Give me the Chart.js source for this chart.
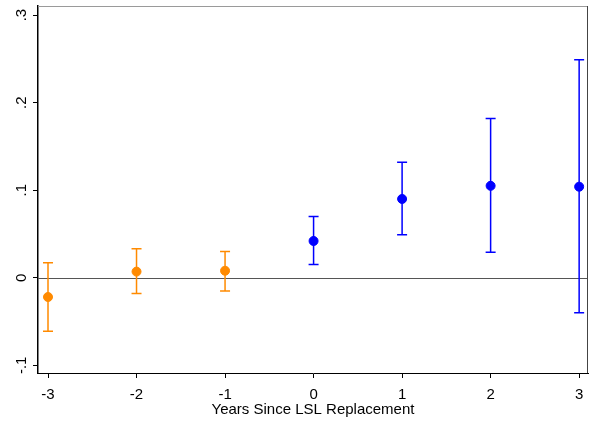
<!DOCTYPE html>
<html>
<head>
<meta charset="utf-8">
<script src="https://cdn.jsdelivr.net/npm/chart.js@4"></script>
<style>
  html, body { margin: 0; padding: 0; background: #fff; }
  #c { display: block; }
</style>
</head>
<body>
<canvas id="c" width="590" height="421"></canvas>
<script>
// ---- data ----
const years = [-3, -2, -1, 0, 1, 2, 3];
const estimates = [-0.022, 0.007, 0.008, 0.042, 0.090, 0.105, 0.104];
const lowerCI  = [-0.061, -0.018, -0.015, 0.015, 0.049, 0.029, -0.040];
const upperCI  = [0.017, 0.033, 0.030, 0.070, 0.132, 0.182, 0.249];
const yTickValues = [-0.1, 0, 0.1, 0.2, 0.3];
const yTickLabels = ['-.1', '0', '.1', '.2', '.3'];
const xTickValues = [-3, -2, -1, 0, 1, 2, 3];
const xTitle = 'Years Since LSL Replacement';

const ORANGE = '#ff8a00';
const BLUE = '#0000ff';
const FONT = 'Arial, "Liberation Sans", Helvetica, sans-serif';

const preIdx = years.map((y, i) => i).filter(i => years[i] < 0);
const postIdx = years.map((y, i) => i).filter(i => years[i] >= 0);

const errorBarPlugin = {
  id: 'errorBars',
  beforeDatasetsDraw(chart) {
    const ctx = chart.ctx;
    const xs = chart.scales.x, ys = chart.scales.y;
    const area = chart.chartArea;
    // zero reference line
    ctx.save();
    ctx.strokeStyle = '#555555';
    ctx.lineWidth = 1;
    const y0 = Math.round(ys.getPixelForValue(0)) + 0.5;
    ctx.beginPath();
    ctx.moveTo(area.left, y0);
    ctx.lineTo(area.right, y0);
    ctx.stroke();
    // error bars
    chart.data.datasets.forEach(ds => {
      ctx.strokeStyle = ds.barColor;
      ctx.lineWidth = 1.5;
      ds.data.forEach(p => {
        const px = xs.getPixelForValue(p.x);
        const pl = ys.getPixelForValue(p.lo);
        const pu = ys.getPixelForValue(p.hi);
        ctx.beginPath();
        ctx.moveTo(px, pl); ctx.lineTo(px, pu);
        ctx.moveTo(px - 5, pl); ctx.lineTo(px + 5, pl);
        ctx.moveTo(px - 5, pu); ctx.lineTo(px + 5, pu);
        ctx.stroke();
      });
    });
    ctx.restore();
  },
  afterDraw(chart) {
    const ctx = chart.ctx;
    const area = chart.chartArea;
    const ys = chart.scales.y;
    ctx.save();
    // frame top and right
    ctx.lineWidth = 1;
    ctx.strokeStyle = '#9a9a9a';
    ctx.beginPath();
    ctx.moveTo(area.left, area.top + 0.5);
    ctx.lineTo(area.right, area.top + 0.5);
    ctx.stroke();
    ctx.strokeStyle = '#444444';
    ctx.beginPath();
    ctx.moveTo(area.right - 0.5, area.top);
    ctx.lineTo(area.right - 0.5, area.bottom);
    ctx.stroke();
    // rotated y tick labels
    ctx.fillStyle = '#000';
    ctx.font = '15px ' + FONT;
    ctx.textAlign = 'center';
    ctx.textBaseline = 'middle';
    yTickValues.forEach((v, i) => {
      const py = ys.getPixelForValue(v);
      ctx.save();
      ctx.translate(22, py);
      ctx.rotate(-Math.PI / 2);
      ctx.fillText(yTickLabels[i], 0, 0);
      ctx.restore();
    });
    ctx.restore();
  }
};

new Chart(document.getElementById('c'), {
  type: 'scatter',
  data: {
    datasets: [
      {
        label: 'pre',
        data: preIdx.map(i => ({ x: years[i], y: estimates[i], lo: lowerCI[i], hi: upperCI[i] })),
        backgroundColor: ORANGE,
        borderColor: ORANGE,
        barColor: ORANGE,
        pointRadius: 4.5,
        pointHoverRadius: 4.5
      },
      {
        label: 'post',
        data: postIdx.map(i => ({ x: years[i], y: estimates[i], lo: lowerCI[i], hi: upperCI[i] })),
        backgroundColor: BLUE,
        borderColor: BLUE,
        barColor: BLUE,
        pointRadius: 4.5,
        pointHoverRadius: 4.5
      }
    ]
  },
  options: {
    responsive: false,
    animation: false,
    events: [],
    layout: { autoPadding: false, padding: { top: 6, right: 2, left: 0, bottom: 0 } },
    plugins: { legend: { display: false }, tooltip: { enabled: false } },
    scales: {
      x: {
        type: 'linear',
        min: -3.113,
        max: 3.10,
        afterBuildTicks: s => { s.ticks = xTickValues.map(v => ({ value: v })); },
        afterFit: s => { s.height = 48; s.paddingLeft = 0; s.paddingRight = 0; },
        ticks: {
          color: '#000',
          font: { family: FONT, size: 15 },
          padding: 8,
          maxRotation: 0,
          callback: v => String(v)
        },
        grid: { drawOnChartArea: false, drawTicks: true, tickLength: 5, color: '#000', tickWidth: 1 },
        border: { display: true, color: '#000', width: 1 },
        title: {
          display: true,
          text: xTitle,
          color: '#000',
          font: { family: FONT, size: 15 },
          padding: { top: 0, bottom: 2 }
        }
      },
      y: {
        type: 'linear',
        min: -0.1088,
        max: 0.3104,
        afterBuildTicks: s => { s.ticks = yTickValues.map(v => ({ value: v })); },
        afterFit: s => { s.width = 38; s.paddingTop = 0; s.paddingBottom = 0; },
        ticks: { display: false },
        grid: { drawOnChartArea: false, drawTicks: true, tickLength: 5, color: '#000', tickWidth: 1 },
        border: { display: true, color: '#000', width: 1.5 }
      }
    }
  },
  plugins: [errorBarPlugin]
});
</script>
</body>
</html>
